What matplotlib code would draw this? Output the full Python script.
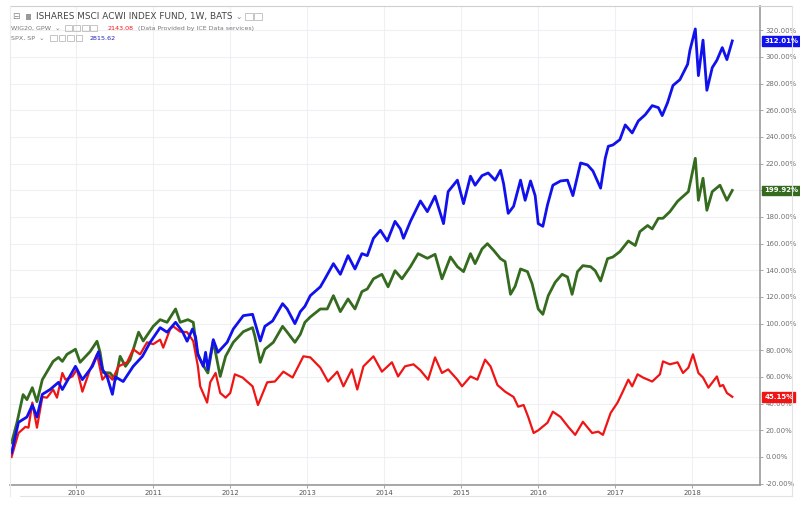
import matplotlib
matplotlib.use("Agg")
import matplotlib.pyplot as plt
from matplotlib.patches import Rectangle
from matplotlib.ticker import FuncFormatter, MultipleLocator

# decimal-year dates and % change since start
spx_t = [2009.16, 2009.25, 2009.36, 2009.43, 2009.49, 2009.56, 2009.66, 2009.77, 2009.82,
         2009.99, 2010.08, 2010.21, 2010.29, 2010.34, 2010.40, 2010.47, 2010.51, 2010.61,
         2010.74, 2010.86, 2010.96, 2011.09, 2011.18, 2011.29, 2011.38, 2011.44, 2011.51,
         2011.55, 2011.58, 2011.65, 2011.68, 2011.71, 2011.78, 2011.84, 2011.96, 2012.04,
         2012.17, 2012.29, 2012.32, 2012.39, 2012.45, 2012.55, 2012.68, 2012.74, 2012.84,
         2012.91, 2012.97, 2013.04, 2013.17, 2013.23, 2013.34, 2013.43, 2013.53, 2013.62,
         2013.71, 2013.78, 2013.86, 2013.95, 2014.04, 2014.14, 2014.21, 2014.25, 2014.34,
         2014.47, 2014.56, 2014.66, 2014.77, 2014.83, 2014.95, 2015.03, 2015.12, 2015.18,
         2015.27, 2015.35, 2015.44, 2015.51, 2015.55, 2015.61, 2015.68, 2015.77, 2015.83,
         2015.90, 2015.96, 2016.00, 2016.06, 2016.12, 2016.19, 2016.29, 2016.38, 2016.45,
         2016.55, 2016.64, 2016.71, 2016.81, 2016.87, 2016.91, 2016.97, 2017.06, 2017.13,
         2017.22, 2017.30, 2017.39, 2017.48, 2017.56, 2017.61, 2017.68, 2017.75, 2017.84,
         2017.94, 2017.97, 2018.04, 2018.08, 2018.14, 2018.19, 2018.26, 2018.32, 2018.39,
         2018.45, 2018.52]
spx = [3, 26, 30, 39, 30, 47, 50.6, 56, 50.6,
       68, 58, 68, 79, 65.7, 60.4, 47, 60, 56.6,
       68, 75.5, 86, 97, 93.6, 101, 94, 86.8, 96,
       90, 77, 68, 78.5, 65.7, 88, 78.5, 86, 96,
       106, 107, 101, 87, 98, 102, 115, 111, 100,
       109, 113, 121, 127.6, 133.6, 145, 137, 151, 141,
       152.5, 151, 164, 170, 162, 176.7, 171, 164, 176.7,
       192, 184, 195.6, 175, 199, 207.6, 190, 210.6, 203.8,
       211, 213, 207.6, 215, 205, 182.7, 188, 207.6, 192.5,
       207, 196, 175, 173, 189, 203.8, 207, 207.6, 196,
       220.5, 219, 214.5, 201.6, 224, 233, 234, 238, 249,
       243, 252, 256.7, 263.5, 262, 256, 265.8, 278.6, 283,
       294.5, 305, 321, 286, 312.6, 275, 292, 297.5, 307,
       298, 312.01]

acwi_t = [2009.16, 2009.23, 2009.31, 2009.36, 2009.43, 2009.49, 2009.56, 2009.70, 2009.77,
          2009.82, 2009.88, 2009.99, 2010.05, 2010.18, 2010.27, 2010.31, 2010.35, 2010.44,
          2010.51, 2010.57, 2010.64, 2010.70, 2010.81, 2010.87, 2011.00, 2011.09, 2011.18,
          2011.29, 2011.35, 2011.45, 2011.52, 2011.57, 2011.61, 2011.68, 2011.71, 2011.78,
          2011.87, 2011.94, 2012.04, 2012.17, 2012.29, 2012.32, 2012.39, 2012.45, 2012.56,
          2012.68, 2012.74, 2012.84, 2012.91, 2012.97, 2013.04, 2013.17, 2013.26, 2013.34,
          2013.43, 2013.53, 2013.62, 2013.71, 2013.78, 2013.86, 2013.97, 2014.05, 2014.14,
          2014.23, 2014.34, 2014.44, 2014.56, 2014.66, 2014.75, 2014.86, 2014.95, 2015.03,
          2015.12, 2015.18, 2015.27, 2015.34, 2015.42, 2015.51, 2015.57, 2015.64, 2015.70,
          2015.77, 2015.86, 2015.92, 2016.00, 2016.06, 2016.13, 2016.22, 2016.31, 2016.38,
          2016.44, 2016.51, 2016.58, 2016.68, 2016.74, 2016.81, 2016.90, 2016.97, 2017.06,
          2017.17, 2017.26, 2017.32, 2017.42, 2017.48, 2017.56, 2017.62, 2017.71, 2017.81,
          2017.95, 2018.04, 2018.08, 2018.14, 2018.19, 2018.26, 2018.36, 2018.45, 2018.52]
acwi = [10.6, 25.7, 46.8, 43, 52, 41.5, 58, 71.7, 74.7,
        71.7, 77, 80.8, 71, 79, 86.8, 78.5, 63.4, 63,
        58, 75.5, 68, 73, 93.6, 87, 98, 103, 101,
        111, 101, 103, 101, 78.5, 73, 65.7, 63, 87,
        60.4, 75.5, 86, 94, 97, 90.6, 71, 80.8, 86,
        98, 93.6, 86, 92, 101, 105, 111, 111, 121,
        109, 118.5, 111, 124, 126, 133.6, 137, 127.6, 139.7,
        133.6, 142.7, 152.5, 149, 152, 133.6, 150, 142.7, 139,
        152.5, 145, 156, 160, 155, 148.7, 146.5, 122, 128,
        141, 139, 130, 111, 107, 121, 131, 137, 135,
        122, 139, 143.5, 142.7, 139.7, 132, 148.7, 150, 154,
        162, 158.6, 169, 173.6, 171, 179, 179, 184, 191.8,
        199, 224, 192.5, 209, 185, 199, 203.8, 192.5, 199.92]

wig_t = [2009.16, 2009.25, 2009.34, 2009.38, 2009.43, 2009.49, 2009.56, 2009.62, 2009.70,
         2009.75, 2009.82, 2009.86, 2009.95, 2010.01, 2010.08, 2010.18, 2010.27, 2010.34,
         2010.40, 2010.47, 2010.55, 2010.66, 2010.74, 2010.83, 2010.92, 2011.00, 2011.09,
         2011.13, 2011.22, 2011.26, 2011.35, 2011.44, 2011.52, 2011.58, 2011.61, 2011.70,
         2011.74, 2011.81, 2011.87, 2011.94, 2012.00, 2012.06, 2012.16, 2012.29, 2012.36,
         2012.48, 2012.58, 2012.69, 2012.81, 2012.95, 2013.04, 2013.17, 2013.27, 2013.39,
         2013.47, 2013.58, 2013.65, 2013.73, 2013.86, 2013.97, 2014.10, 2014.18, 2014.27,
         2014.38, 2014.47, 2014.57, 2014.66, 2014.75, 2014.83, 2014.95, 2015.01, 2015.12,
         2015.21, 2015.31, 2015.38, 2015.47, 2015.57, 2015.68, 2015.74, 2015.81, 2015.87,
         2015.94, 2016.00, 2016.12, 2016.19, 2016.29, 2016.39, 2016.48, 2016.58, 2016.70,
         2016.78, 2016.84, 2016.94, 2017.03, 2017.09, 2017.17, 2017.22, 2017.29, 2017.36,
         2017.48, 2017.58, 2017.62, 2017.71, 2017.81, 2017.88, 2017.95, 2018.01, 2018.08,
         2018.14, 2018.21, 2018.27, 2018.32, 2018.36, 2018.40, 2018.45, 2018.52]
wig = [0, 18, 22.6, 22, 40.8, 22, 45, 44.5, 50.6,
       44.5, 63, 58, 60.4, 65.7, 49, 65.7, 77, 58,
       62, 58, 68, 71, 80.8, 77, 86, 84.6, 88,
       82, 96, 98, 94, 93.6, 86.8, 68, 53, 40.8,
       56, 63, 48, 44.5, 48, 62, 59.6, 53, 39,
       56, 56.6, 64, 59.6, 75.5, 74.7, 67, 56.6, 64,
       53, 65.7, 50.6, 68, 75.5, 64, 71, 60.4, 68,
       69.5, 65, 58, 74.7, 63, 65.7, 58, 53, 60.4,
       58, 73, 68, 54, 49, 45, 37.7, 39, 30,
       18, 20, 25.7, 34, 30, 22.6, 16.6, 26.4, 18,
       19, 16.6, 33, 40.8, 48, 58, 53, 62, 59.6,
       56.6, 62, 71.7, 69.5, 71, 63, 67, 77, 63,
       59.6, 52, 56.6, 60.4, 53, 54, 48, 45.15]

years = [2010, 2011, 2012, 2013, 2014, 2015, 2016, 2017, 2018]

BLUE = "#1111ee"
GREEN = "#346b1e"
RED = "#f01515"
GRID = "#eef0f3"
TXT = "#6f6f6f"

fig = plt.figure(figsize=(8, 5.05), dpi=100)
ax = fig.add_axes([0.0125, 0.0396, 0.9375, 0.948])

ax.plot(wig_t, wig, color=RED, lw=1.6, zorder=3)
ax.plot(acwi_t, acwi, color=GREEN, lw=2.0, zorder=2)
ax.plot(spx_t, spx, color=BLUE, lw=2.0, zorder=4)

ax.set_xlim(2009.14, 2018.88)
ax.set_ylim(-21, 338)
ax.set_xticks(years)
ax.set_xticklabels([str(y) for y in years])
ax.yaxis.set_major_locator(MultipleLocator(20))
ax.yaxis.set_major_formatter(FuncFormatter(lambda v, p: f"{v:.2f}%"))
ax.yaxis.tick_right()
ax.grid(True, color=GRID, lw=0.8)
ax.set_axisbelow(True)

ax.tick_params(axis="y", labelsize=5, colors="#999999", labelcolor=TXT, length=2, width=0.6, pad=2)
ax.tick_params(axis="x", labelsize=5, colors="#999999", labelcolor="#555555", length=2, width=0.6, pad=1.5)
for side in ("left", "top"):
    ax.spines[side].set_visible(False)
for side in ("right", "bottom"):
    ax.spines[side].set_color("#9a9a9a")
    ax.spines[side].set_linewidth(1.2)

# last value tags on the price scale
for val, col in [(312.01, BLUE), (199.92, GREEN), (45.15, RED)]:
    ax.annotate(f"{val:.2f}%", xy=(1, val), xycoords=("axes fraction", "data"),
                xytext=(3, 0), textcoords="offset points", va="center", ha="left",
                fontsize=5, color="white", fontweight="bold",
                bbox=dict(boxstyle="square,pad=0.25", fc=col, ec=col), zorder=6)

# outer frame of the widget
fig.add_artist(plt.Line2D([0.0125, 0.99], [0.988, 0.988], color="#cfcfcf", lw=0.8))
fig.add_artist(plt.Line2D([0.99, 0.99], [0.018, 0.988], color="#e2e2e2", lw=0.8))
fig.add_artist(plt.Line2D([0.0125, 0.0125], [0.018, 0.988], color="#ececec", lw=0.8))
fig.add_artist(plt.Line2D([0.025, 0.99], [0.018, 0.018], color="#e2e2e2", lw=0.8))

# legend header
fig.text(0.015, 0.967, "⊟", fontsize=6.5, color="#888888", va="center")
fig.add_artist(Rectangle((0.032, 0.961), 0.007, 0.012, fc="#9a9a9a", ec="none"))
fig.text(0.045, 0.967, "ISHARES MSCI ACWI INDEX FUND, 1W, BATS", fontsize=6.4,
         color="#444444", va="center")
fig.text(0.294, 0.967, "⌄", fontsize=5.5, color="#888888", va="center")
fig.text(0.0135, 0.944, "WIG20, GPW  ⌄", fontsize=4.6, color="#777777", va="center")
fig.text(0.0135, 0.924, "SPX, SP  ⌄", fontsize=4.6, color="#777777", va="center")
for i in range(2):
    fig.add_artist(Rectangle((0.306 + i * 0.012, 0.960), 0.010, 0.014, fc="none",
                             ec="#bbbbbb", lw=0.6))
for i in range(4):
    fig.add_artist(Rectangle((0.081 + i * 0.0107, 0.938), 0.0085, 0.012, fc="none",
                             ec="#bbbbbb", lw=0.6))
    fig.add_artist(Rectangle((0.0625 + i * 0.0107, 0.918), 0.0085, 0.012, fc="none",
                             ec="#bbbbbb", lw=0.6))
fig.text(0.134, 0.944, "2143.08", fontsize=4.6, color=RED, va="center")
fig.text(0.1725, 0.944, "(Data Provided by ICE Data services)", fontsize=4.5,
         color="#777777", va="center")
fig.text(0.1125, 0.924, "2815.62", fontsize=4.6, color="#2222bb", va="center")

fig.savefig("out.png", dpi=100, facecolor="white")
